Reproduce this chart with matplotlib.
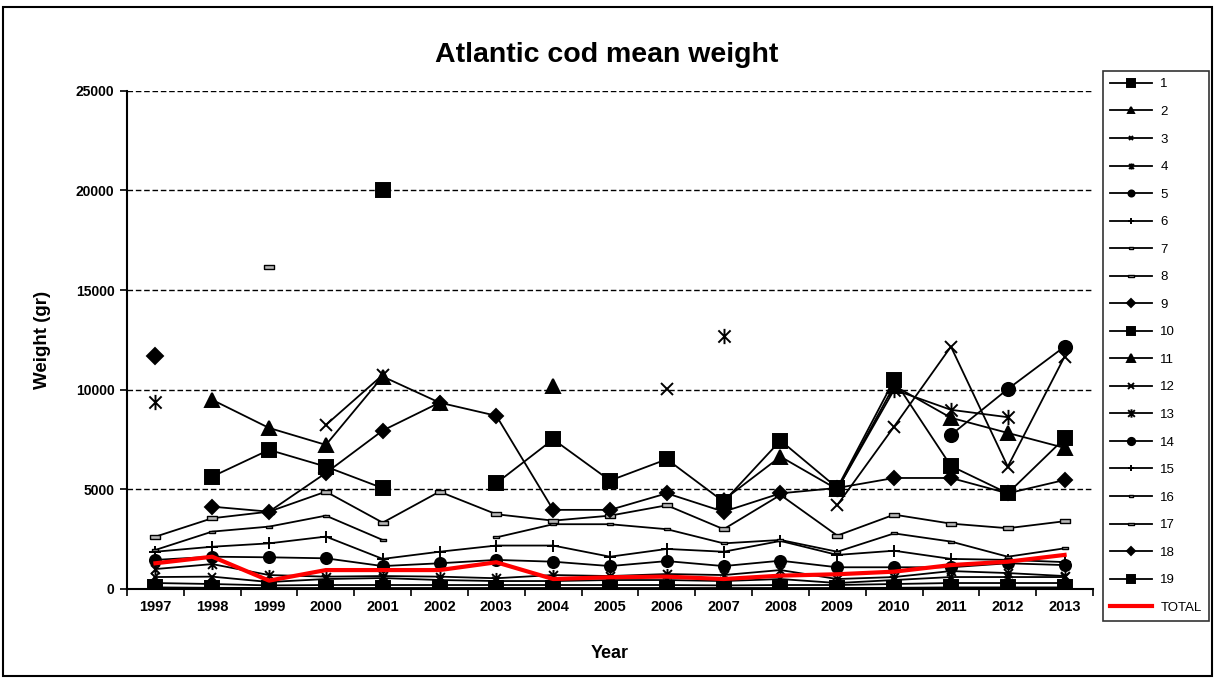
import numpy as np
import matplotlib
matplotlib.use('Agg')
import matplotlib.pyplot as plt
from matplotlib.patches import Rectangle
from matplotlib.path import Path

plt.rcParams['font.family'] = ['Liberation Sans', 'DejaVu Sans']

N = None
years = [str(y) for y in range(1997, 2014)]

s1 = [80, 60, 50, 50, 50, 50, 50, 50, 50, 50, 50, 50, 50, 60, 80, 80, 80]
s2 = [300, 250, 180, 200, 200, 200, 200, 200, 200, 200, 180, 200, 200, 250, 300, 300, 300]
s3 = [600, 620, 350, 500, 550, 450, 400, 400, 450, 450, 400, 500, 300, 450, 600, 600, 600]
s4 = [1000, 1250, 700, 620, 650, 620, 540, 700, 650, 750, 700, 950, 500, 600, 900, 800, 650]
s5 = [1460, 1620, 1590, 1540, 1150, 1290, 1460, 1370, 1150, 1400, 1150, 1420, 1090, 1090, 1090, 1290, 1200]
s6 = [1870, 2120, 2290, 2630, 1510, 1870, 2180, 2180, 1620, 2010, 1870, 2410, 1710, 1920, 1510, 1460, 1350]
s7 = [1960, 2880, 3130, 3680, 2460, N, 2590, 3250, 3250, 3000, 2290, 2460, 1870, 2790, 2380, 1620, 2040]
s8 = [2625, 3550, 3880, 4885, 3330, 4885, 3750, 3430, 3680, 4200, 3000, 4720, 2680, 3730, 3280, 3050, 3400]
s9 = [N, 4130, 3880, 5820, 7950, 9350, 8690, 3970, 3970, 4800, 3880, 4800, 5070, 5570, 5570, 4800, 5470]
s10 = [N, 5640, 6980, 6140, 5060, N, 5310, 7510, 5440, 6510, 4380, 7450, 5070, 10490, 6170, 4800, 7560]
s11 = [N, 9490, 8080, 7230, 10660, 9350, N, 10160, N, N, 4470, 6640, 5000, 10200, 8590, 7830, 7080]
s12 = [N, N, N, 8230, 10740, N, N, N, N, 10040, N, N, 4210, 8150, 12160, 6140, 11660]
s13 = [9400, N, N, N, N, N, N, N, N, N, 12700, N, 5000, 10000, 8990, 8620, N]
s14 = [N, N, N, N, N, N, N, N, N, N, N, N, N, N, 7730, 10030, 12160]
s15 = [N] * 17
s16 = [N] * 17
s17 = [N, N, 16150, N, N, N, N, N, N, N, N, N, N, N, N, N, N]
s18 = [11700, N, N, N, N, N, N, N, N, N, N, N, N, N, N, N, N]
s19 = [N, N, N, N, 20000, N, N, N, N, N, N, N, N, N, N, N, N]
total = [1290, 1620, 420, 950, 950, 950, 1340, 500, 590, 620, 500, 670, 740, 870, 1200, 1370, 1710]

series = [s1, s2, s3, s4, s5, s6, s7, s8, s9, s10, s11, s12, s13, s14, s15, s16, s17, s18, s19]
labels = [str(i) for i in range(1, 20)]

W, H = 1216, 678
fig = plt.figure(figsize=(W / 100, H / 100), dpi=100)
fig.patches.append(Rectangle((3 / W, 2 / H), (1212 - 3) / W, (671 - 2) / H, transform=fig.transFigure,
                             fill=False, edgecolor='black', linewidth=1.5))
ax = fig.add_axes([127 / W, 1 - 589 / H, (1093 - 127) / W, (589 - 90.7) / H])

dash_s = [(-1, -0.4), (1, -0.4), (1, 0.4), (-1, 0.4), (-1, -0.4)]
dash_l = [(-1, -0.45), (1, -0.45), (1, 0.45), (-1, 0.45), (-1, -0.45)]
ast = Path([(-1, -1), (1, 1), (-1, 1), (1, -1), (0, -1.25), (0, 1.25)],
           [Path.MOVETO, Path.LINETO, Path.MOVETO, Path.LINETO, Path.MOVETO, Path.LINETO])
styles = [
    ('s', 9.5), ('^', 8), ('x', 6), (ast, 8), ('o', 8), ('+', 9), (dash_s, 5), (dash_l, 7), ('D', 7.5),
    ('s', 9.5), ('^', 9.5), ('x', 9), (ast, 11), ('o', 9.5), ('+', 9), (dash_s, 5), (dash_l, 7), ('D', 8), ('s', 9.5),
]

x = np.arange(len(years))
for vals, lab, (m, ms) in zip(series, labels, styles):
    y = np.array([np.nan if v is None else v for v in vals], dtype=float)
    is_dash = isinstance(m, list)
    ax.plot(x, y, color='black', linewidth=1.3, marker=m, markersize=ms,
            markerfacecolor='#b8b8b8' if is_dash else 'black', markeredgecolor='black',
            markeredgewidth=1.0 if is_dash else 1.4, label=lab, zorder=3)
ax.plot(x, total, color='#ff0000', linewidth=3, label='TOTAL', zorder=4)

ax.set_xlim(-0.5, len(years) - 0.5)
ax.set_ylim(0, 25000)
ax.set_yticks(np.arange(0, 25001, 5000))
ax.set_xticks(x)
ax.set_xticklabels(years, fontsize=10.5, fontweight='bold')
ax.set_xticks(np.arange(-0.5, len(years)), minor=True)
ax.tick_params(axis='x', which='major', length=0, pad=8)
ax.tick_params(axis='x', which='minor', length=5, width=1.2, direction='out')
ax.tick_params(axis='y', length=5, width=1.2, direction='out', labelsize=10, pad=4)
for t in ax.get_yticklabels():
    t.set_fontweight('bold')
for v in range(5000, 25001, 5000):
    ax.axhline(v, color='black', linestyle=(0, (4, 2)), linewidth=1.0, zorder=1)
for s in ['top', 'right']:
    ax.spines[s].set_visible(False)
for s in ['left', 'bottom']:
    ax.spines[s].set_linewidth(1.5)

ax.set_ylabel('Weight (gr)', fontsize=13.5, fontweight='bold', labelpad=18)
ax.set_xlabel('Year', fontsize=13, fontweight='bold', labelpad=22)
fig.text(607 / W, 1 - 55 / H, 'Atlantic cod mean weight', fontsize=20.5, fontweight='bold',
         ha='center', va='center')

leg = ax.legend(loc='upper left', bbox_to_anchor=(1103 / W, 1 - 71 / H), bbox_transform=fig.transFigure,
                borderaxespad=0, frameon=True, fancybox=False, edgecolor='black', fontsize=9.5,
                markerscale=0.55, handlelength=3.2, labelspacing=1.16, handletextpad=0.6,
                borderpad=0.55)
leg.get_frame().set_linewidth(1.2)

fig.savefig('out.png', dpi=100)
